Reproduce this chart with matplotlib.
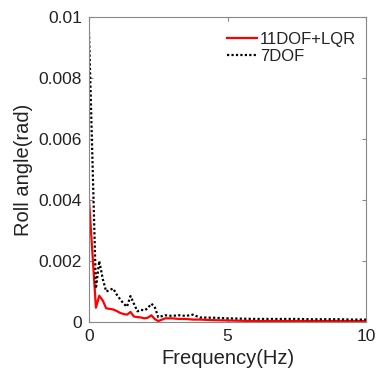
import matplotlib
matplotlib.use("Agg")
import matplotlib.pyplot as plt

plt.rcParams['font.family'] = ['Liberation Sans', 'DejaVu Sans']

# Frequency (Hz)
freq = [0, 0.25, 0.37, 0.5, 0.62, 0.75, 0.87, 1.0, 1.12, 1.25, 1.37, 1.5, 1.62,
        1.75, 1.87, 2.0, 2.12, 2.25, 2.37, 2.5, 2.75, 3.0, 3.25, 3.5, 3.75, 4.0,
        4.5, 5.0, 5.5, 6.0, 6.5, 7.0, 7.5, 8.0, 8.5, 9.0, 9.5, 10.0]

# 7DOF roll angle (rad)
dof7 = [0.0095, 0.0011, 0.0020, 0.0014, 0.0010, 0.00105, 0.0011, 0.0009, 0.00075,
        0.0006, 0.0005, 0.00085, 0.0006, 0.00035, 0.0004, 0.00038, 0.00045,
        0.0006, 0.0005, 0.00016, 0.00022, 0.0002, 0.00022, 0.0002, 0.00024,
        0.00015, 0.00014, 0.00012, 0.00011, 0.0001, 0.0001, 0.0001, 0.0001,
        0.00009, 0.00009, 0.00009, 0.00008, 0.00008]

# 11DOF+LQR roll angle (rad)
dof11 = [0.0040, 0.00047, 0.00086, 0.0007, 0.00045, 0.00043, 0.00041, 0.00036,
         0.0003, 0.00026, 0.00024, 0.00033, 0.00018, 0.00016, 0.00015, 0.00012,
         0.00014, 0.00022, 0.0001, 0.00003, 0.00012, 0.00012, 0.0001, 0.0001,
         0.00008, 0.00008, 0.00006, 0.00005, 0.00004, 0.00003, 0.00003, 0.00003,
         0.00003, 0.00003, 0.00003, 0.00003, 0.00003, 0.00003]

yticks = [0, 0.002, 0.004, 0.006, 0.008, 0.01]
ytick_labels = ['0', '0.002', '0.004', '0.006', '0.008', '0.01']
xticks = [0, 5, 10]

fig = plt.figure(figsize=(3.77, 3.79), dpi=100)
ax = fig.add_axes([89/377, 1 - 322/379, 277/377, 305/379])

ax.plot(freq, dof11, color='#ff0000', lw=1.6, label='11DOF+LQR')
ax.plot(freq, dof7, color='black', lw=1.6, ls=(0, (1, 1)), label='7DOF')

ax.set_xlim(0, 10)
ax.set_ylim(0, 0.01)
ax.set_xticks(xticks)
ax.set_xticklabels([str(x) for x in xticks])
ax.set_yticks(yticks)
ax.set_yticklabels(ytick_labels)

for s in ax.spines.values():
    s.set_color('#888888')
    s.set_linewidth(0.8)
ax.tick_params(direction='in', length=3, color='#888888', labelsize=12.5,
               labelcolor='#222222', top=True, right=True, pad=5)

ax.set_xlabel('Frequency(Hz)', fontsize=14.5, color='#222222', labelpad=4)
ax.set_ylabel('Roll angle(rad)', fontsize=14.5, color='#222222', labelpad=4)

ax.legend(loc='upper right', bbox_to_anchor=(1.0, 0.985), frameon=False,
          fontsize=12, handlelength=1.75, handletextpad=0.2,
          borderaxespad=0.2, labelspacing=0.15, labelcolor='#222222')

fig.savefig('out.png', dpi=100)
